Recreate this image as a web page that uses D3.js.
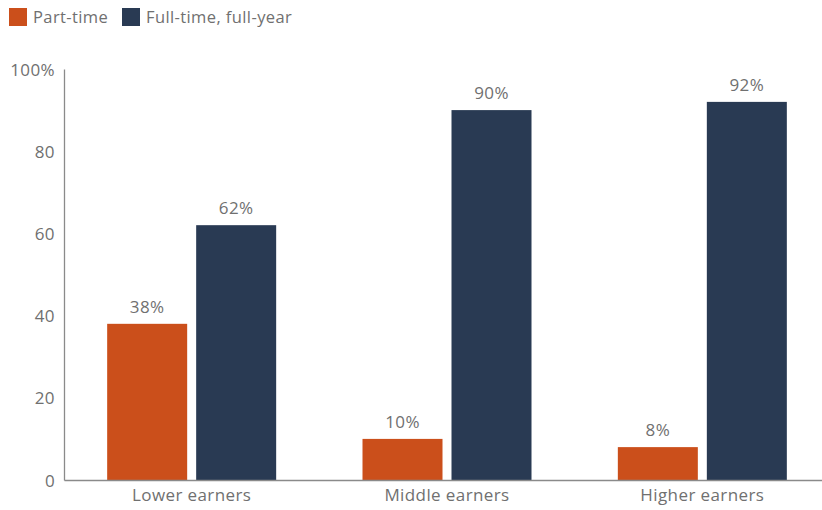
<!DOCTYPE html>
<html><head><meta charset="utf-8">
<script src="https://cdn.jsdelivr.net/npm/d3@7"></script>
<style>body{margin:0;background:#fff;}svg{display:block;}text{font-family:"Open Sans",Lato,sans-serif;letter-spacing:0.4px;}</style>
</head><body>
<svg id="chart" width="822" height="510"></svg>
<script>
const categories = ["Lower earners", "Middle earners", "Higher earners"];
const seriesNames = ["Part-time", "Full-time, full-year"];
const partTime = [38, 10, 8];
const fullTime = [62, 90, 92];
const yTicks = [0, 20, 40, 60, 80, 100];
const colors = ["#cb4f1b", "#293a53"];

const svg = d3.select("#chart");
const textColor = "#707070";
const axisColor = "#8a8a8a";

const x0 = d3.scaleBand().domain(categories).range([64, 830]).paddingInner(0).paddingOuter(0);
const y = d3.scaleLinear().domain([0, 100]).range([480, 69]);
const x1 = d3.scaleBand().domain(seriesNames).range([x0.bandwidth()/2 - 84.5, x0.bandwidth()/2 + 84.5]).paddingInner(9/89);

const data = categories.map((c, i) => ({cat: c, vals: [partTime[i], fullTime[i]]}));

// y axis
const yAxis = svg.append("g").attr("transform", "translate(64,0)")
  .call(d3.axisLeft(y).tickValues(yTicks).tickSize(0).tickPadding(9).tickFormat(d => d === 100 ? "100%" : d));
yAxis.select(".domain").attr("stroke", axisColor).attr("stroke-width", 1.3);
yAxis.selectAll("text").attr("fill", textColor).attr("font-size", 17).attr("dy", "0.36em");

// bars
const g = svg.append("g").selectAll("g").data(data).join("g")
  .attr("transform", d => `translate(${x0(d.cat)},0)`);
g.selectAll("rect").data(d => d.vals.map((v, j) => ({s: seriesNames[j], v, j}))).join("rect")
  .attr("x", d => x1(d.s)).attr("width", x1.bandwidth())
  .attr("y", d => y(d.v)).attr("height", d => y(0) - y(d.v))
  .attr("fill", d => colors[d.j]);
g.selectAll("text.val").data(d => d.vals.map((v, j) => ({s: seriesNames[j], v, j}))).join("text")
  .attr("class", "val")
  .attr("x", d => x1(d.s) + x1.bandwidth()/2).attr("y", d => y(d.v) - 11)
  .attr("text-anchor", "middle").attr("fill", textColor).attr("font-size", 17)
  .text(d => d.v + "%");

// x axis
const xAxis = svg.append("g").attr("transform", "translate(0,480)")
  .call(d3.axisBottom(x0).tickSize(0).tickPadding(9));
xAxis.select(".domain").attr("stroke", axisColor).attr("stroke-width", 1.3);
xAxis.selectAll("text").attr("fill", textColor).attr("font-size", 17);

// legend
const legendX = [9, 122];
const leg = svg.append("g").selectAll("g").data(seriesNames).join("g")
  .attr("transform", (d, i) => `translate(${legendX[i]},8)`);
leg.append("rect").attr("width", 18).attr("height", 18).attr("fill", (d, i) => colors[i]);
leg.append("text").attr("x", 24).attr("y", 9).attr("dy", "0.36em")
  .attr("fill", textColor).attr("font-size", 16.5).text(d => d);
</script>
</body></html>
